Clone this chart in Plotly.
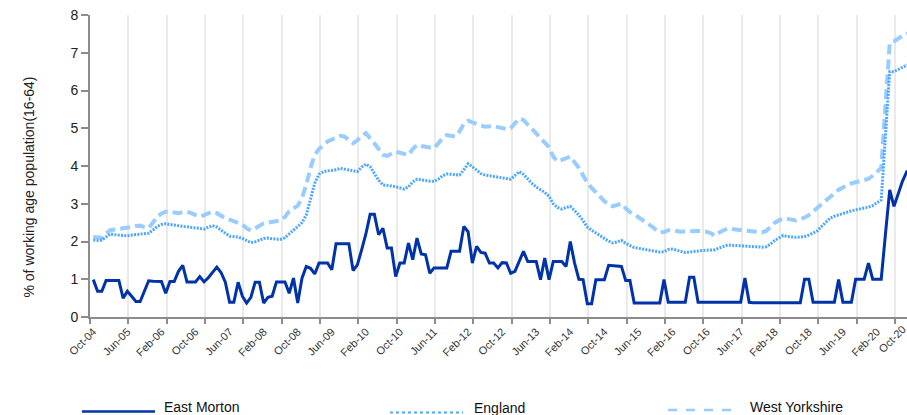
import plotly.graph_objects as go
import pandas as pd

# ---------------- data ----------------
months = pd.date_range("2004-10-01", "2020-10-01", freq="MS").strftime("%b-%y").tolist()

tick_labels = ["Oct-04", "Jun-05", "Feb-06", "Oct-06", "Jun-07", "Feb-08", "Oct-08",
               "Jun-09", "Feb-10", "Oct-10", "Jun-11", "Feb-12", "Oct-12", "Jun-13",
               "Feb-14", "Oct-14", "Jun-15", "Feb-16", "Oct-16", "Jun-17", "Feb-18",
               "Oct-18", "Jun-19", "Feb-20", "Oct-20"]

east_morton = [
    0.99, 0.68, 0.68, 0.97, 0.97, 0.97, 0.97, 0.50, 0.68, 0.55,
    0.41, 0.41, 0.68, 0.96, 0.95, 0.95, 0.94, 0.63, 0.94, 0.94,
    1.21, 1.37, 0.93, 0.93, 0.93, 1.07, 0.93, 1.04, 1.18, 1.32,
    1.18, 0.92, 0.39, 0.39, 0.92, 0.55, 0.37, 0.52, 0.92, 0.92,
    0.37, 0.52, 0.55, 0.93, 0.93, 0.93, 0.63, 1.03, 0.37, 1.03,
    1.34, 1.29, 1.14, 1.43, 1.43, 1.43, 1.25, 1.94, 1.94, 1.94,
    1.94, 1.23, 1.38, 1.78, 2.20, 2.72, 2.72, 2.18, 2.35, 1.83,
    1.83, 1.07, 1.43, 1.43, 1.96, 1.52, 2.09, 1.67, 1.65, 1.16,
    1.30, 1.30, 1.30, 1.30, 1.74, 1.74, 1.74, 2.40, 2.26, 1.43,
    1.87, 1.71, 1.69, 1.43, 1.43, 1.30, 1.44, 1.43, 1.16, 1.21,
    1.48, 1.74, 1.47, 1.47, 1.47, 0.99, 1.56, 0.99, 1.47, 1.47,
    1.47, 1.34, 2.00, 1.43, 1.00, 0.99, 0.35, 0.35, 0.99, 0.99,
    0.99, 1.37, 1.36, 1.34, 1.34, 0.97, 0.97, 0.37, 0.37, 0.37,
    0.37, 0.37, 0.37, 0.37, 0.99, 0.39, 0.39, 0.39, 0.39, 0.39,
    1.05, 1.05, 0.39, 0.39, 0.39, 0.39, 0.39, 0.39, 0.39, 0.39,
    0.39, 0.39, 0.39, 1.03, 0.39, 0.38, 0.38, 0.38, 0.38, 0.38,
    0.38, 0.38, 0.38, 0.38, 0.38, 0.38, 0.38, 1.00, 1.00, 0.39,
    0.39, 0.39, 0.39, 0.39, 0.39, 0.99, 0.39, 0.39, 0.39, 1.00,
    1.00, 1.00, 1.43, 1.00, 1.00, 1.00, 2.20, 3.37, 2.93, 3.25,
    3.60, 3.85, 3.85]

england = [
    2.04, 2.03, 2.04, 2.12, 2.20, 2.18, 2.17, 2.16, 2.15, 2.17,
    2.18, 2.19, 2.20, 2.22, 2.30, 2.40, 2.45, 2.47, 2.45, 2.43,
    2.41, 2.40, 2.39, 2.38, 2.37, 2.35, 2.33, 2.38, 2.42, 2.38,
    2.30, 2.20, 2.14, 2.13, 2.12, 2.08, 2.02, 1.97, 1.99, 2.04,
    2.08, 2.09, 2.07, 2.06, 2.06, 2.10, 2.20, 2.30, 2.40, 2.50,
    2.70, 3.10, 3.55, 3.78, 3.85, 3.87, 3.88, 3.90, 3.94, 3.92,
    3.90, 3.87, 3.85, 3.97, 4.05, 3.98, 3.80, 3.62, 3.50, 3.49,
    3.47, 3.45, 3.42, 3.39, 3.45, 3.58, 3.65, 3.63, 3.62, 3.60,
    3.59, 3.65, 3.74, 3.79, 3.78, 3.77, 3.76, 3.90, 4.06, 3.98,
    3.88, 3.80, 3.76, 3.74, 3.72, 3.70, 3.69, 3.67, 3.65, 3.75,
    3.85, 3.78, 3.65, 3.54, 3.44, 3.38, 3.30, 3.20, 3.00, 2.90,
    2.86, 2.90, 2.93, 2.82, 2.70, 2.55, 2.38, 2.30, 2.22, 2.16,
    2.08, 2.01, 1.96, 1.99, 2.03, 1.95, 1.89, 1.84, 1.82, 1.80,
    1.78, 1.76, 1.74, 1.72, 1.73, 1.79, 1.80, 1.77, 1.74, 1.71,
    1.72, 1.74, 1.75, 1.76, 1.77, 1.78, 1.78, 1.83, 1.88, 1.91,
    1.90, 1.89, 1.88, 1.87, 1.87, 1.86, 1.86, 1.85, 1.86, 1.93,
    2.03, 2.10, 2.16, 2.13, 2.11, 2.11, 2.12, 2.13, 2.17, 2.22,
    2.28, 2.40, 2.52, 2.62, 2.67, 2.71, 2.75, 2.78, 2.81, 2.84,
    2.86, 2.88, 2.91, 2.95, 3.02, 3.10, 4.80, 6.50, 6.50, 6.55,
    6.62, 6.67, 6.67]

west_yorkshire = [
    2.12, 2.10, 2.10, 2.22, 2.30, 2.32, 2.33, 2.34, 2.35, 2.38,
    2.41, 2.42, 2.38, 2.36, 2.50, 2.66, 2.74, 2.79, 2.79, 2.76,
    2.75, 2.78, 2.79, 2.75, 2.70, 2.66, 2.70, 2.75, 2.79, 2.75,
    2.68, 2.62, 2.58, 2.54, 2.50, 2.45, 2.35, 2.29, 2.35, 2.43,
    2.48, 2.50, 2.52, 2.54, 2.56, 2.65, 2.80, 2.88, 2.95, 3.15,
    3.50, 3.95, 4.30, 4.45, 4.55, 4.65, 4.70, 4.75, 4.80, 4.78,
    4.70, 4.60, 4.68, 4.80, 4.87, 4.75, 4.60, 4.45, 4.30, 4.27,
    4.33, 4.38, 4.35, 4.31, 4.29, 4.45, 4.56, 4.53, 4.51, 4.49,
    4.47, 4.60, 4.74, 4.82, 4.80, 4.78, 4.92, 5.12, 5.20, 5.15,
    5.10, 5.07, 5.04, 5.05, 5.06, 5.03, 5.00, 4.98, 5.00, 5.15,
    5.26, 5.22, 5.10, 4.98, 4.87, 4.75, 4.62, 4.50, 4.25, 4.12,
    4.16, 4.22, 4.25, 4.10, 3.95, 3.75, 3.55, 3.42, 3.30, 3.17,
    3.07, 2.97, 2.93, 2.97, 3.00, 2.88, 2.78, 2.72, 2.65, 2.57,
    2.50, 2.41, 2.32, 2.24, 2.25, 2.30, 2.30, 2.28, 2.26, 2.27,
    2.28, 2.29, 2.28, 2.27, 2.26, 2.22, 2.15, 2.24, 2.31, 2.35,
    2.33, 2.31, 2.30, 2.29, 2.28, 2.27, 2.26, 2.24, 2.28, 2.40,
    2.50, 2.56, 2.62, 2.60, 2.57, 2.56, 2.60, 2.63, 2.70, 2.80,
    2.90, 3.00, 3.10, 3.20, 3.30, 3.37, 3.43, 3.49, 3.54, 3.57,
    3.60, 3.62, 3.66, 3.74, 3.85, 3.95, 5.60, 7.25, 7.30, 7.38,
    7.45, 7.50, 7.52]

series_names = ["East Morton", "England", "West Yorkshire"]

# ---------------- layout constants ----------------
W, H = 907, 415
ML, MR, MT, MB = 90, 0, 15, 98
PW, PH = W - ML - MR, H - MT - MB
PX_PER_MONTH = 4.259
X0 = -3.3 / PX_PER_MONTH            # left edge of plot in month units
X1 = X0 + PW / PX_PER_MONTH         # right edge
GRID_STEP = 9
LABEL_STEP = 8

FONT = "Liberation Sans, Arial, sans-serif"
C_EM = "#0033AA"
C_EN = "#4DA6FF"
C_WY = "#99CCFF"

x = list(range(len(months)))

fig = go.Figure()
fig.add_trace(go.Scatter(x=x, y=west_yorkshire, mode="lines", name=series_names[2],
                         text=months, line=dict(color=C_WY, width=4, dash="10px,5px")))
fig.add_trace(go.Scatter(x=x, y=england, mode="lines", name=series_names[1],
                         text=months, line=dict(color=C_EN, width=3, dash="2px,1.3px")))
fig.add_trace(go.Scatter(x=x, y=east_morton, mode="lines", name=series_names[0],
                         text=months, line=dict(color=C_EM, width=3)))
# invisible carrier so the label axis (x2) is drawn
fig.add_trace(go.Scatter(x=x, y=england, xaxis="x2", yaxis="y", mode="lines",
                         line=dict(width=0, color="rgba(0,0,0,0)"), hoverinfo="skip",
                         showlegend=False))

grid_vals = [X0 + GRID_STEP * k for k in range(0, 22)]
label_idx = list(range(0, len(months), LABEL_STEP))
shown = [i for i in label_idx if i <= X1]

fig.update_layout(
    width=W, height=H,
    margin=dict(l=ML, r=MR, t=MT, b=MB),
    paper_bgcolor="white", plot_bgcolor="white",
    showlegend=False,
    font=dict(family=FONT, color="#222222"),
    xaxis=dict(range=[X0, X1], tickmode="array", tickvals=grid_vals,
               showticklabels=False, showgrid=True, gridcolor="#EAEAEA", gridwidth=1.5,
               ticks="outside", ticklen=5, tickcolor="#8C8C8C", tickwidth=1.5,
               showline=True, linecolor="#8C8C8C", linewidth=2, zeroline=False),
    xaxis2=dict(range=[X0, X1], overlaying="x", anchor="y", side="bottom",
                tickmode="array", tickvals=shown,
                ticktext=[tick_labels[label_idx.index(i)] for i in shown],
                tickangle=-45, tickfont=dict(size=11, color="#333333", family=FONT),
                ticks="outside", ticklen=3, tickcolor="rgba(0,0,0,0)",
                showgrid=False, showline=False, zeroline=False),
    yaxis=dict(range=[0, 8], dtick=1, showgrid=False, zeroline=False,
               ticks="outside", ticklen=7, tickcolor="#8C8C8C", tickwidth=1.5,
               showline=True, linecolor="#8C8C8C", linewidth=2,
               tickfont=dict(size=14, color="#222222")),
)

# last tick label (Oct-20) sits just past the visible plot edge
for i in label_idx:
    if i > X1:
        fig.add_annotation(x=(i - X0) / (X1 - X0), xref="paper", y=-0.012, yref="paper",
                           text=tick_labels[label_idx.index(i)], textangle=-45,
                           showarrow=False, xanchor="right", yanchor="top",
                           font=dict(size=11, color="#333333", family=FONT))

def px(xp):
    return (xp - ML) / PW

def py(yp):
    return (MT + PH - yp) / PH

# y-axis title
fig.add_annotation(x=px(28), xref="paper", y=py(187.5), yref="paper",
                   xanchor="center", yanchor="middle",
                   text="% of working age population(16-64)", textangle=-90,
                   showarrow=False, font=dict(size=14, color="#222222", family=FONT))

# manual legend
legend_items = [
    (series_names[0], C_EM, "solid", 2.5, 82, 155, 411.5, 162, 406.5),
    (series_names[1], C_EN, "dot", 2, 390, 463, 412.5, 472, 408),
    (series_names[2], C_WY, "dash", 2.5, 668, 738, 410, 748, 406.5),
]
for name, col, dash, wdt, xa, xb, yl, xt, yt in legend_items:
    fig.add_shape(type="line", xref="paper", yref="paper",
                  x0=px(xa), x1=px(xb), y0=py(yl), y1=py(yl),
                  line=dict(color=col, width=wdt, dash=dash))
    fig.add_annotation(x=px(xt), xref="paper", y=py(yt), yref="paper", text=name,
                       showarrow=False, xanchor="left", yanchor="middle",
                       font=dict(size=14, color="#111111", family=FONT))

fig.write_html("out.html", config={"displayModeBar": False},
               post_script="document.body.style.margin='0';document.body.style.overflow='hidden';")
